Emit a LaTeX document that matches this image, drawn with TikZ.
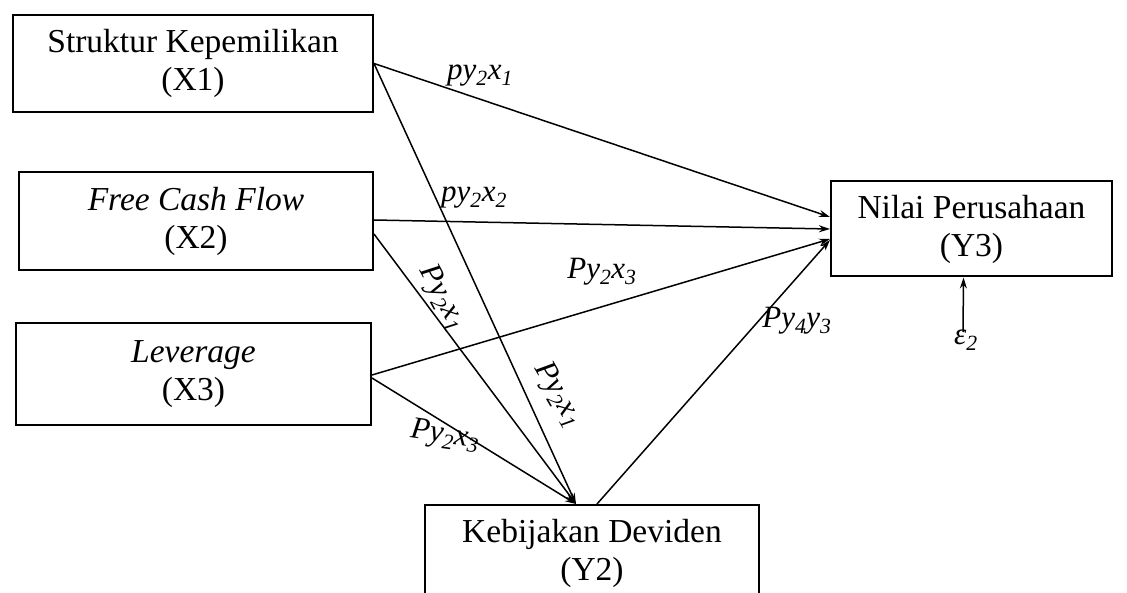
\documentclass[tikz,border=0pt]{standalone}
\usepackage{fontspec}
\setmainfont{Liberation Serif}
\usetikzlibrary{arrows.meta}
\begin{document}
\begin{tikzpicture}[x=1pt,y=-1pt,
  box/.style={draw,line width=2pt,align=center,inner sep=0pt,
    font=\fontsize{33.5}{38}\selectfont},
  path/.style={line width=1.5pt,-{Stealth[length=11pt,width=7pt]}},
  coef/.style={font=\fontsize{31}{31}\selectfont\itshape,inner sep=0pt}]
\useasboundingbox (0,0) rectangle (1127,593);
% exogenous variables
\node[box,minimum width=360pt,minimum height=97pt] (x1) at (193,63.5)
  {Struktur Kepemilikan\\(X1)};
\node[box,minimum width=354pt,minimum height=98pt] (x2) at (196,221)
  {\textit{Free Cash Flow}\\(X2)};
\node[box,minimum width=355pt,minimum height=102pt] (x3) at (193.5,374)
  {\textit{Leverage}\\(X3)};
% endogenous variables
\node[box,minimum width=281pt,minimum height=95pt] (y3) at (971.5,229)
  {Nilai Perusahaan\\(Y3)};
\node[box,minimum width=334pt,minimum height=96pt,anchor=north west] (y2) at (424,504)
  {Kebijakan Deviden\\(Y2)};
\coordinate (e2) at (963,332);
\node[coef,anchor=north] (e2lab) at (966,330) {ε\textsubscript{2}};
% paths to Y3
\draw[path] (x1.east) -- ([yshift=12pt]y3.west);
\draw[path] ([yshift=1pt]x2.east) -- (y3.west);
\draw[path] ([yshift=-1pt]x3.east) -- ([yshift=-10pt]y3.west);
\draw[path] ([xshift=5pt]y2.north) -- ([yshift=-11pt]y3.west);
\draw[path] (e2) -- ([xshift=-8pt]y3.south);
% paths to Y2
\draw[path] (x1.east) -- ([xshift=-16pt]y2.north);
\draw[path] ([yshift=-13pt]x2.east) -- ([xshift=-16pt]y2.north);
\draw[path] ([yshift=-4pt]x3.east) -- ([xshift=-16pt]y2.north);
% path coefficients
\node[coef] (c1) at (480,76) {py\textsubscript{2}x\textsubscript{1}};
\node[coef] (c2) at (474,198) {py\textsubscript{2}x\textsubscript{2}};
\node[coef] (c3) at (602,272) {Py\textsubscript{2}x\textsubscript{3}};
\node[coef,rotate=-62] (c4) at (442,298) {Py\textsubscript{2}x\textsubscript{1}};
\node[coef,rotate=-60] (c5) at (558,395) {Py\textsubscript{2}x\textsubscript{1}};
\node[coef,rotate=-8] (c6) at (445,436) {Py\textsubscript{2}x\textsubscript{3}};
\node[coef] (c7) at (797,321) {Py\textsubscript{4}y\textsubscript{3}};
\end{tikzpicture}
\end{document}
